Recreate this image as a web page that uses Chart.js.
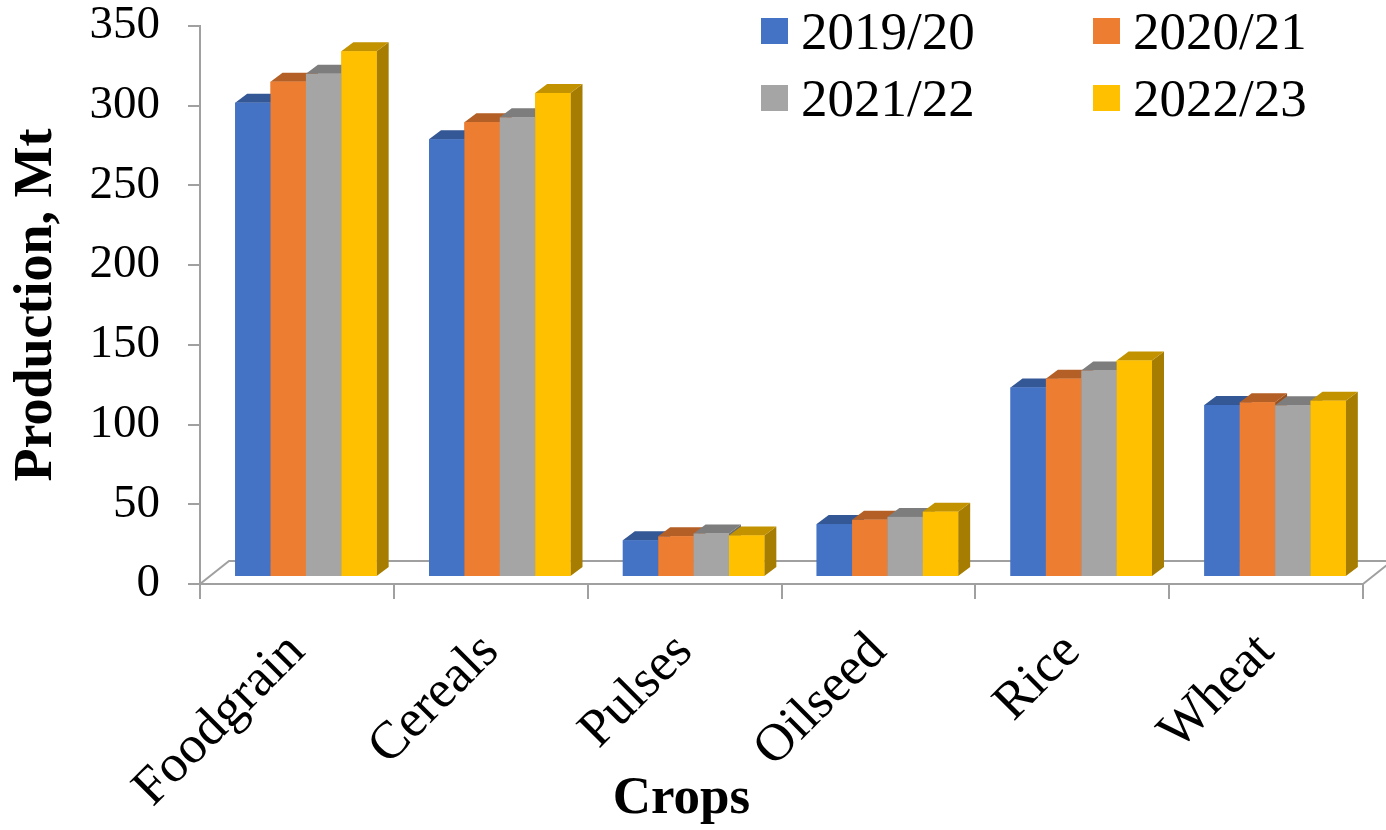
<!DOCTYPE html>
<html lang="en">
<head>
  <meta charset="UTF-8">
  <title>Crop Production</title>
  <script src="https://cdn.jsdelivr.net/npm/chart.js"></script>
  <style>
    body {
      margin: 0;
      padding: 0;
      background: #fff;
    }
    .chart-wrapper {
      width: 1386px;
      height: 830px;
    }
  </style>
</head>
<body>
  <div class="chart-wrapper">
    <canvas id="cropChart"></canvas>
  </div>
  <script>
    // data, Mt
    const crops = ['Foodgrain', 'Cereals', 'Pulses', 'Oilseed', 'Rice', 'Wheat'];
    const seasons = ['2019/20', '2020/21', '2021/22', '2022/23'];
    const prod1920 = [297.5, 274.5, 23.0, 33.2, 118.9, 107.9];
    const prod2021 = [310.7, 285.3, 25.5, 35.9, 124.4, 109.6];
    const prod2122 = [315.6, 288.3, 27.3, 37.7, 129.5, 107.7];
    const prod2223 = [329.7, 303.6, 26.1, 41.0, 135.8, 110.6];
    const yMin = 0, yMax = 350, yStep = 50;

    const colors = ['#4472C4', '#ED7D31', '#A5A5A5', '#FFC000'];
    const axisGray = '#A0A0A0';
    const serif = "'Liberation Serif', 'Times New Roman', serif";

    // darker face for the 3d look
    function shade(hex, f) {
      const n = parseInt(hex.slice(1), 16);
      const r = Math.round(((n >> 16) & 255) * f);
      const g = Math.round(((n >> 8) & 255) * f);
      const b = Math.round((n & 255) * f);
      return `rgb(${r},${g},${b})`;
    }

    const DX = 12, DY = 9;        // bar depth
    const SHIFT_X = 9, SHIFT_Y = 7; // bars stand a bit back on the floor
    const FLOOR_X = 29, FLOOR_Y = 23;

    const bars3d = {
      id: 'bars3d',
      beforeDatasetsDraw(chart) {
        const { ctx, chartArea: a } = chart;
        ctx.save();
        ctx.strokeStyle = axisGray;
        ctx.lineWidth = 2;
        ctx.beginPath();
        ctx.moveTo(a.left, a.bottom);
        ctx.lineTo(a.left + FLOOR_X, a.bottom - FLOOR_Y);
        ctx.lineTo(a.right + FLOOR_X, a.bottom - FLOOR_Y);
        ctx.moveTo(a.right, a.bottom);
        ctx.lineTo(a.right + FLOOR_X, a.bottom - FLOOR_Y);
        ctx.stroke();
        ctx.restore();
        ctx.save();
        ctx.translate(SHIFT_X, -SHIFT_Y);
      },
      afterDatasetsDraw(chart) {
        const ctx = chart.ctx;
        chart.data.datasets.forEach((ds, i) => {
          const meta = chart.getDatasetMeta(i);
          const front = ds.backgroundColor;
          meta.data.forEach(bar => {
            const { x, y, base, width } = bar.getProps(['x', 'y', 'base', 'width'], true);
            const l = x - width / 2, r = x + width / 2;
            ctx.fillStyle = shade(front, 0.65);
            ctx.beginPath();
            ctx.moveTo(r, y);
            ctx.lineTo(r + DX, y - DY);
            ctx.lineTo(r + DX, base - DY);
            ctx.lineTo(r, base);
            ctx.closePath();
            ctx.fill();
            ctx.fillStyle = shade(front, 0.76);
            ctx.beginPath();
            ctx.moveTo(l, y);
            ctx.lineTo(l + DX, y - DY);
            ctx.lineTo(r + DX, y - DY);
            ctx.lineTo(r, y);
            ctx.closePath();
            ctx.fill();
            ctx.fillStyle = front;
            ctx.fillRect(l, y, width, base - y);
          });
        });
        ctx.restore();
      }
    };

    const legendBox = {
      id: 'legendBox',
      afterDraw(chart) {
        const ctx = chart.ctx;
        ctx.save();
        ctx.font = `53px ${serif}`;
        ctx.textBaseline = 'alphabetic';
        chart.data.datasets.forEach((ds, i) => {
          const x = 761 + (i % 2) * 332;
          const y = 18 + Math.floor(i / 2) * 67;
          ctx.fillStyle = ds.backgroundColor;
          ctx.fillRect(x, y, 27, 26);
          ctx.fillStyle = '#000';
          ctx.fillText(ds.label, x + 40, y + 31);
        });
        ctx.restore();
      }
    };

    const series = [prod1920, prod2021, prod2122, prod2223];
    const titleSize = 53, titleLine = 1.16, titlePadTop = -45;
    const plotTop = 26, plotBottom = 584;

    new Chart(document.getElementById('cropChart'), {
      type: 'bar',
      data: {
        labels: crops,
        datasets: series.map((vals, i) => ({
          label: seasons[i],
          data: vals,
          backgroundColor: colors[i],
          borderWidth: 0,
          categoryPercentage: 0.73,
          barPercentage: 1.0
        }))
      },
      options: {
        responsive: true,
        maintainAspectRatio: false,
        animation: false,
        layout: { padding: { top: 0, right: 23, left: 0, bottom: 0 } },
        plugins: {
          legend: { display: false },
          tooltip: { enabled: false },
          title: {
            display: true,
            position: 'bottom',
            text: 'Crops',
            color: '#000',
            font: { family: serif, size: titleSize, weight: 'bold', lineHeight: titleLine },
            padding: { top: titlePadTop, bottom: 0 }
          }
        },
        scales: {
          x: {
            grid: { drawOnChartArea: false, color: axisGray, lineWidth: 2, tickLength: 15, offset: true },
            border: { display: true, color: axisGray, width: 2 },
            ticks: {
              color: '#000',
              font: { family: serif, size: 53 },
              minRotation: 45,
              maxRotation: 45,
              autoSkip: false,
              padding: 22
            },
            afterFit(scale) {
              scale.height = 830 - plotBottom - (titleSize * titleLine + titlePadTop);
            }
          },
          y: {
            min: yMin,
            max: yMax,
            grid: { drawOnChartArea: false, color: axisGray, lineWidth: 2, tickLength: 12 },
            border: { display: true, color: axisGray, width: 2 },
            ticks: {
              stepSize: yStep,
              color: '#000',
              font: { family: serif, size: 47 },
              padding: 28
            },
            title: {
              display: true,
              text: 'Production, Mt',
              color: '#000',
              font: { family: serif, size: 54, weight: 'bold' },
              padding: { top: 5, bottom: 0 }
            },
            afterFit(scale) {
              scale.width = 200;
              scale.paddingTop = plotTop;
              scale.paddingBottom = 0;
            }
          }
        }
      },
      plugins: [bars3d, legendBox]
    });
  </script>
</body>
</html>
